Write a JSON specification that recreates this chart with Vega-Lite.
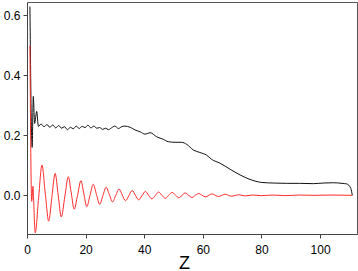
{
  "$schema": "https://vega.github.io/schema/vega-lite/v6.json",
  "width": 330,
  "height": 232,
  "autosize": {"type": "none"},
  "padding": {"left": 27, "top": 2, "right": 1, "bottom": 37},
  "config": {
    "view": {"stroke": "#555", "strokeWidth": 1},
    "axis": {"domainColor": "#444", "tickColor": "#444", "tickSize": 4, "labelFont": "Liberation Sans", "labelFontSize": 12, "labelColor": "#000", "grid": false}
  },
  "data": {"values": [
    {"s":"b","z":1.0,"v":0.63},{"s":"b","z":1.75,"v":0.16},{"s":"b","z":2.15,"v":0.33},{"s":"b","z":2.6,"v":0.24},{"s":"b","z":3.3,"v":0.28},{"s":"b","z":3.9,"v":0.23},
    {"s":"b","z":4.8,"v":0.238},{"s":"b","z":5.8,"v":0.229},{"s":"b","z":6.8,"v":0.236},{"s":"b","z":7.8,"v":0.227},{"s":"b","z":8.8,"v":0.235},{"s":"b","z":9.8,"v":0.225},{"s":"b","z":10.8,"v":0.233},{"s":"b","z":11.8,"v":0.224},{"s":"b","z":12.8,"v":0.229},{"s":"b","z":13.8,"v":0.219},{"s":"b","z":14.8,"v":0.227},{"s":"b","z":15.8,"v":0.222},{"s":"b","z":16.8,"v":0.231},{"s":"b","z":17.8,"v":0.223},{"s":"b","z":18.8,"v":0.230},{"s":"b","z":19.8,"v":0.226},{"s":"b","z":20.8,"v":0.234},{"s":"b","z":21.8,"v":0.225},{"s":"b","z":22.8,"v":0.231},{"s":"b","z":23.8,"v":0.224},{"s":"b","z":24.8,"v":0.226},{"s":"b","z":25.8,"v":0.220},{"s":"b","z":26.8,"v":0.224},{"s":"b","z":27.8,"v":0.219},{"s":"b","z":28.8,"v":0.225},{"s":"b","z":30.0,"v":0.231},{"s":"b","z":31.2,"v":0.223},{"s":"b","z":32.3,"v":0.229},{"s":"b","z":33.4,"v":0.231},{"s":"b","z":35.2,"v":0.227},{"s":"b","z":36.9,"v":0.218},{"s":"b","z":38.6,"v":0.212},{"s":"b","z":40.3,"v":0.204},{"s":"b","z":42.0,"v":0.209},{"s":"b","z":44.3,"v":0.195},{"s":"b","z":46.5,"v":0.187},{"s":"b","z":48.2,"v":0.179},{"s":"b","z":50.5,"v":0.177},{"s":"b","z":52.8,"v":0.177},{"s":"b","z":54.5,"v":0.170},{"s":"b","z":56.8,"v":0.151},{"s":"b","z":59.0,"v":0.143},{"s":"b","z":61.3,"v":0.134},{"s":"b","z":63.0,"v":0.120},{"s":"b","z":65.9,"v":0.107},{"s":"b","z":69.3,"v":0.087},{"s":"b","z":72.7,"v":0.068},{"s":"b","z":76.1,"v":0.053},{"s":"b","z":80.1,"v":0.043},{"s":"b","z":84.0,"v":0.041},{"s":"b","z":88.6,"v":0.040},{"s":"b","z":93.0,"v":0.040},{"s":"b","z":97.7,"v":0.039},{"s":"b","z":101.0,"v":0.041},{"s":"b","z":104.5,"v":0.042},{"s":"b","z":107.5,"v":0.040},{"s":"b","z":109.1,"v":0.038},{"s":"b","z":110.5,"v":0.023},{"s":"b","z":111.0,"v":0.0},
    {"s":"r","z":1.0,"v":0.50},{"s":"r","z":1.6,"v":-0.02},{"s":"r","z":2.05,"v":0.03},{"s":"r","z":2.2,"v":0.0},{"s":"r","z":2.8,"v":-0.125},{"s":"r","z":3.95,"v":-0.01},{"s":"r","z":5.1,"v":0.101},{"s":"r","z":6.25,"v":0.005},{"s":"r","z":7.4,"v":-0.086},{"s":"r","z":8.5,"v":-0.005},{"s":"r","z":9.6,"v":0.073},{"s":"r","z":10.65,"v":0.0},{"s":"r","z":11.7,"v":-0.072},{"s":"r","z":12.9,"v":-0.005},{"s":"r","z":14.1,"v":0.062},{"s":"r","z":15.1,"v":0.008},{"s":"r","z":16.1,"v":-0.046},{"s":"r","z":17.25,"v":0.0},{"s":"r","z":18.4,"v":0.049},{"s":"r","z":19.4,"v":0.005},{"s":"r","z":20.4,"v":-0.038},{"s":"r","z":21.5,"v":0.0},{"s":"r","z":22.6,"v":0.037},{"s":"r","z":23.7,"v":0.003},{"s":"r","z":24.8,"v":-0.030},{"s":"r","z":25.9,"v":-0.001},{"s":"r","z":27.0,"v":0.027},{"s":"r","z":28.1,"v":0.002},{"s":"r","z":29.2,"v":-0.022},{"s":"r","z":30.3,"v":0.0},{"s":"r","z":31.4,"v":0.021},{"s":"r","z":32.5,"v":0.001},{"s":"r","z":33.6,"v":-0.018},{"s":"r","z":34.75,"v":-0.001},{"s":"r","z":35.9,"v":0.016},{"s":"r","z":37.0,"v":0.0},{"s":"r","z":38.1,"v":-0.015},{"s":"r","z":39.25,"v":-0.001},{"s":"r","z":40.4,"v":0.013},{"s":"r","z":41.5,"v":0.0},{"s":"r","z":42.6,"v":-0.012},{"s":"r","z":43.75,"v":-0.001},{"s":"r","z":44.9,"v":0.011},{"s":"r","z":46.05,"v":0.0},{"s":"r","z":47.2,"v":-0.010},{"s":"r","z":48.35,"v":0.0},{"s":"r","z":49.5,"v":0.010},{"s":"r","z":50.65,"v":0.001},{"s":"r","z":51.8,"v":-0.008},{"s":"r","z":52.9,"v":0.0},{"s":"r","z":54.0,"v":0.008},{"s":"r","z":55.15,"v":0.0},{"s":"r","z":56.3,"v":-0.007},{"s":"r","z":57.45,"v":0.0},{"s":"r","z":58.6,"v":0.006},{"s":"r","z":59.75,"v":0.0},{"s":"r","z":60.9,"v":-0.005},{"s":"r","z":62.0,"v":0.0},{"s":"r","z":63.1,"v":0.005},{"s":"r","z":64.25,"v":0.0},{"s":"r","z":65.4,"v":-0.004},{"s":"r","z":66.5,"v":0.0},{"s":"r","z":67.6,"v":0.004},{"s":"r","z":68.75,"v":0.0},{"s":"r","z":69.9,"v":-0.003},{"s":"r","z":72.2,"v":0.002},{"s":"r","z":74.5,"v":-0.002},{"s":"r","z":77.0,"v":0.001},{"s":"r","z":80.0,"v":-0.001},{"s":"r","z":84.0,"v":0.001},{"s":"r","z":88.0,"v":-0.001},{"s":"r","z":93.0,"v":0.001},{"s":"r","z":98.0,"v":0.0},{"s":"r","z":104.0,"v":0.001},{"s":"r","z":111.0,"v":0.0}
  ]},
  "mark": {"type": "line", "strokeWidth": 1, "clip": true, "interpolate": "monotone"},
  "encoding": {
    "x": {"field": "z", "type": "quantitative", "scale": {"domain": [0, 112.6], "nice": false, "zero": false},
      "axis": {"values": [0, 20, 40, 60, 80, 100], "title": "Z", "titleFont": "Liberation Sans", "titleFontSize": 18, "titleFontWeight": "normal", "titleColor": "#000", "titleX": 157, "titleY": 34, "titleBaseline": "alphabetic", "labelPadding": 6, "labelFlush": false}},
    "y": {"field": "v", "type": "quantitative", "scale": {"domain": [-0.129, 0.645], "nice": false, "zero": false},
      "axis": {"values": [0, 0.2, 0.4, 0.6], "format": ".1f", "title": null, "labelPadding": 3}},
    "color": {"field": "s", "type": "nominal", "scale": {"domain": ["b", "r"], "range": ["#111111", "#ff2a2a"]}, "legend": null}
  }
}
